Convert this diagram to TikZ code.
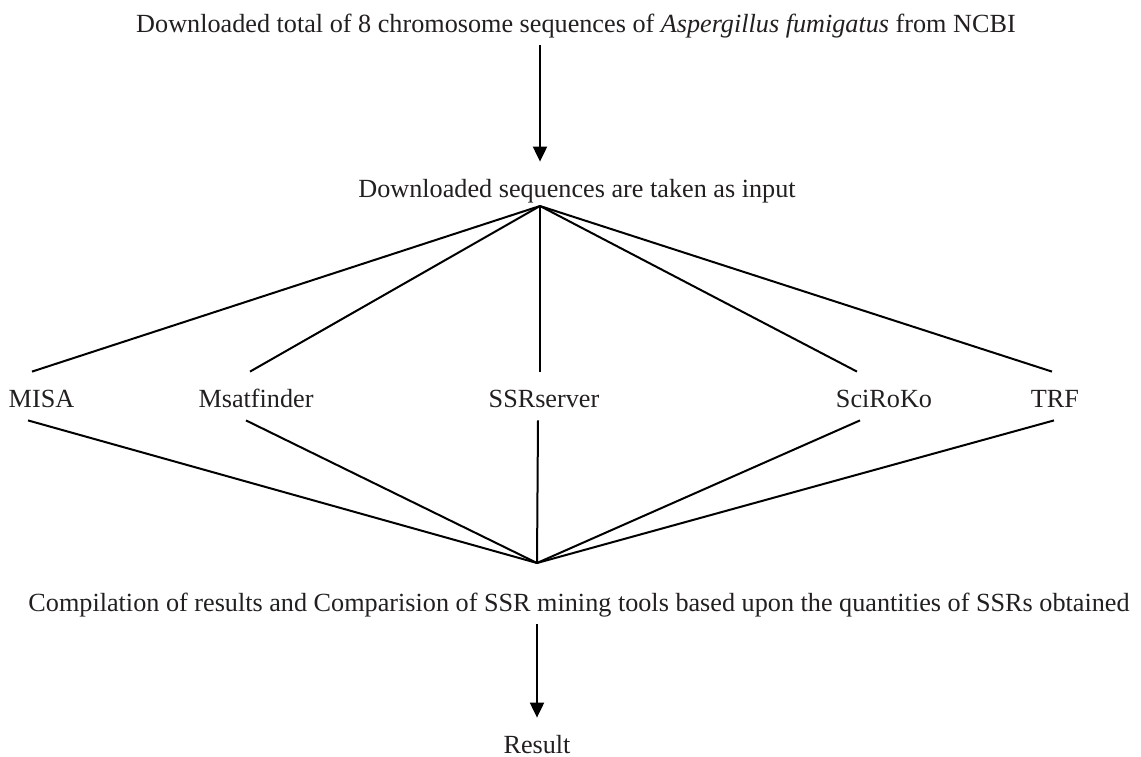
\documentclass[tikz,border=0pt]{standalone}
\usepackage{fontspec}
\setmainfont{Liberation Serif}
\usetikzlibrary{arrows.meta}
\definecolor{txtgray}{HTML}{231F20}

\begin{document}
\begin{tikzpicture}[x=0.5pt, y=-0.5pt,
    lbl/.style={anchor=base, inner sep=0pt, text height=17.5pt, text depth=6.5pt,
        text=txtgray, font=\fontsize{13.1}{15}\selectfont},
    link/.style={line width=1pt},
    arr/.style={line width=1pt, -{Triangle[length=7.5pt, width=7pt]}}]
    \useasboundingbox (0,0) rectangle (1141,756);
    % Text nodes
    \node[lbl, text height=12pt] (ncbi) at (576,32) {Downloaded total of 8 chromosome sequences of \textit{Aspergillus fumigatus} from NCBI};
    \node[lbl] (input) at (577,197) {Downloaded sequences are taken as input};
    \node[lbl] (misa) at (41.5,407) {MISA};
    \node[lbl] (msat) at (256,407) {Msatfinder};
    \node[lbl] (ssrs) at (544,407) {SSRserver};
    \node[lbl] (scir) at (884,407) {SciRoKo};
    \node[lbl] (trf) at (1055,407) {TRF};
    \node[lbl] (comp) at (579,611) {Compilation of results and Comparision of SSR mining tools based upon the quantities of SSRs obtained};
    \node[lbl, text depth=0pt] (res) at (537,753) {Result};
    % Hubs
    \coordinate (inhub) at (540,206);
    \coordinate (outhub) at (537,563);
    % Arrows
    \draw[arr] (ncbi.south -| inhub) -- (input.north -| inhub);
    \draw[arr] (comp.south -| outhub) -- (res.north -| outhub);
    % Fan out
    \draw[link] (inhub) -- ([xshift=-4.75pt]misa.north);
    \draw[link] (inhub) -- ([xshift=-3pt]msat.north);
    \draw[link] (inhub) -- ([xshift=-2pt]ssrs.north);
    \draw[link] (inhub) -- ([xshift=-13.5pt]scir.north);
    \draw[link] (inhub) -- ([xshift=-1.5pt]trf.north);
    % Fan in
    \draw[link] ([xshift=-6.75pt]misa.south) -- (outhub);
    \draw[link] ([xshift=-5pt]msat.south) -- (outhub);
    \draw[link] ([xshift=-3pt]ssrs.south) -- (outhub);
    \draw[link] ([xshift=-12pt]scir.south) -- (outhub);
    \draw[link] ([xshift=-0.5pt]trf.south) -- (outhub);
\end{tikzpicture}
\end{document}
